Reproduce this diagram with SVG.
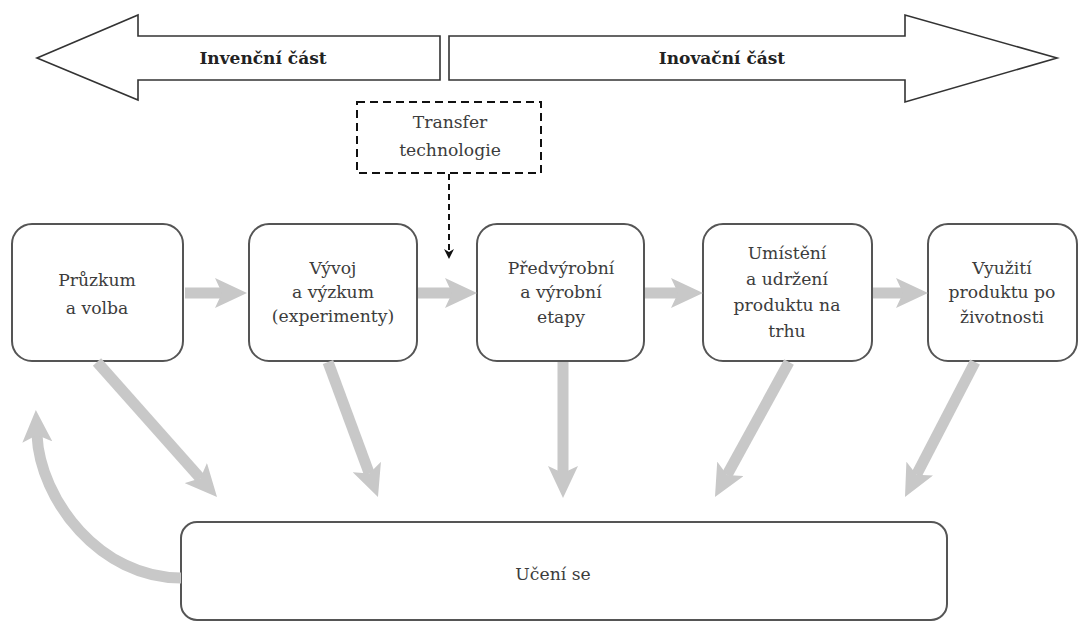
<svg xmlns="http://www.w3.org/2000/svg" width="1087" height="623" viewBox="0 0 1087 623">
<style>
.big{fill:#fff;stroke:#333;stroke-width:1.6}
.hd{font-family:"DejaVu Serif",serif;font-weight:bold;font-size:17px;fill:#222;text-anchor:middle}
.box{fill:#fff;stroke:#555;stroke-width:2}
.t{font-family:"DejaVu Serif",serif;font-size:17.2px;fill:#3c3c3c;text-anchor:middle}
.ga{stroke:#c8c8c8;stroke-width:11;fill:none;marker-end:url(#gh)}
</style>
<defs>
<marker id="gh" markerUnits="userSpaceOnUse" markerWidth="32" markerHeight="30" refX="7" refY="15" orient="auto" viewBox="0 0 32 30">
<path d="M0,0 L32,15 L0,30 L7,15 Z" fill="#c8c8c8"/>
</marker>
<marker id="dh" markerUnits="userSpaceOnUse" markerWidth="10" markerHeight="10" refX="2" refY="5" orient="auto" viewBox="0 0 10 10">
<path d="M0,0 L10,5 L0,10 L3,5 Z" fill="#111"/>
</marker>
</defs>
<g id="invencni">
<polygon class="big" points="37,58 138,15 138,36 440,36 440,80 138,80 138,100"/>
<text class="hd" x="263" y="64">Invenční část</text>
</g>
<g id="inovacni">
<polygon class="big" points="449,36 905,36 905,15 1057,58 905,102 905,80 449,80"/>
<text class="hd" x="722" y="64">Inovační část</text>
</g>
<g id="transfer">
<rect x="357" y="102" width="184" height="71" fill="#fff" stroke="#111" stroke-width="2" stroke-dasharray="8,5"/>
<text class="t" x="450" y="128">Transfer</text>
<text class="t" x="450" y="156">technologie</text>
</g>
<g id="pruzkum">
<rect class="box" x="12" y="224" width="171" height="137" rx="20"/>
<text class="t" x="97" y="286">Průzkum</text>
<text class="t" x="97" y="314">a volba</text>
</g>
<g id="vyvoj">
<rect class="box" x="249" y="224" width="168" height="137" rx="20"/>
<text class="t" x="333" y="274">Vývoj</text>
<text class="t" x="333" y="298">a výzkum</text>
<text class="t" x="333" y="322">(experimenty)</text>
</g>
<g id="predvyrobni">
<rect class="box" x="477" y="224" width="167" height="137" rx="20"/>
<text class="t" x="561" y="274">Předvýrobní</text>
<text class="t" x="561" y="298">a výrobní</text>
<text class="t" x="561" y="323">etapy</text>
</g>
<g id="umisteni">
<rect class="box" x="703" y="224" width="169" height="137" rx="20"/>
<text class="t" x="787" y="259">Umístění</text>
<text class="t" x="787" y="285">a udržení</text>
<text class="t" x="787" y="311">produktu na</text>
<text class="t" x="787" y="337">trhu</text>
</g>
<g id="vyuziti">
<rect class="box" x="928" y="224" width="149" height="137" rx="20"/>
<text class="t" x="1002" y="274">Využití</text>
<text class="t" x="1002" y="298">produktu po</text>
<text class="t" x="1002" y="323">životnosti</text>
</g>
<g id="uceni">
<rect class="box" x="181" y="522" width="766" height="98" rx="16"/>
<text class="t" x="553" y="580">Učení se</text>
</g>
<g id="connectors">
<line x1="449" y1="174" x2="449" y2="251" stroke="#111" stroke-width="2" stroke-dasharray="6,4" marker-end="url(#dh)"/>
<line class="ga" x1="185" y1="293" x2="222" y2="293"/>
<line class="ga" x1="418" y1="293" x2="452" y2="293"/>
<line class="ga" x1="645" y1="293" x2="678" y2="293"/>
<line class="ga" x1="873" y1="293" x2="903" y2="293"/>
<line class="ga" x1="97" y1="362" x2="200.4" y2="478.3"/>
<line class="ga" x1="328" y1="362" x2="369.3" y2="473.6"/>
<line class="ga" x1="563" y1="362" x2="563" y2="473"/>
<line class="ga" x1="789" y1="362" x2="727" y2="475"/>
<line class="ga" x1="975" y1="362" x2="916.5" y2="474.8"/>
<path class="ga" d="M181,578 C100,578 40,500 37,435"/>
</g>
</svg>
